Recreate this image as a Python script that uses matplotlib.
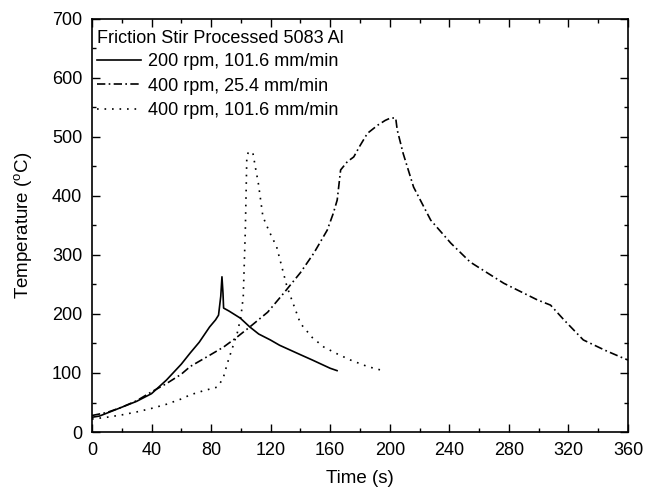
import numpy as np
import matplotlib.pyplot as plt

plt.rcParams['font.family'] = ['Liberation Sans', 'DejaVu Sans']
plt.rcParams['mathtext.fontset'] = 'custom'
plt.rcParams['mathtext.rm'] = 'Liberation Sans'

# 200 rpm, 101.6 mm/min
t1 = [0, 5, 10, 20, 30, 40, 50, 60, 66, 72, 79, 83, 85, 86.5, 87.3, 88, 88.4, 92, 99.6, 106, 112, 119.8, 126, 133, 140, 148, 155.7, 160, 164.6]
T1 = [25, 27, 32, 42, 52, 65, 88, 115, 134, 152, 178, 190, 198, 230, 263, 235, 210, 205, 193, 178, 166, 156, 147, 139, 131, 122, 113, 108, 104]

# 400 rpm, 25.4 mm/min
t2 = [0, 10, 20, 30, 40, 50, 60, 66, 79, 88.4, 97, 106, 118, 128.7, 140, 149, 158, 162, 164.7, 167, 171.5, 175.8, 180, 185, 192, 197, 200.5, 204, 205, 209, 216, 227.5, 241, 254, 259, 276.6, 299, 308, 317, 330, 345, 357, 360]
T2 = [28, 33, 42, 53, 68, 82, 98, 111, 130, 144, 160, 178, 203, 235, 270, 303, 342, 370, 393, 444, 458, 466, 485, 506, 520, 528, 532, 532, 512, 472, 415, 359, 320, 288, 280, 252, 224, 215, 190, 156, 138, 125, 122]

# 400 rpm, 101.6 mm/min
t3 = [0, 10, 20, 30, 40, 50, 60, 66, 75, 84, 88, 91, 94, 97.6, 100, 101.6, 103, 104, 105, 108, 110, 111.7, 114.8, 119, 124, 131, 140, 148, 155.7, 165, 173.6, 185, 194]
T3 = [22, 25, 29, 34, 40, 47, 56, 63, 70, 76, 90, 117, 140, 168, 195, 229, 342, 466, 474, 474, 445, 422, 365, 340, 314, 246, 184, 160, 144, 132, 122, 111, 105]

fig = plt.figure(figsize=(6.45, 4.96), dpi=100)
ax = fig.add_axes([0.1426, 0.129, 0.831, 0.833])

ax.plot(t1, T1, color='black', lw=1.2, ls='-', label='200 rpm, 101.6 mm/min')
ax.plot(t2, T2, color='black', lw=1.2, ls=(0, (5, 2, 1, 2)), label='400 rpm, 25.4 mm/min')
ax.plot(t3, T3, color='black', lw=1.2, ls=(0, (1, 3.5)), label='400 rpm, 101.6 mm/min')

ax.set_xlim(0, 360)
ax.set_ylim(0, 700)
ax.set_xticks(np.arange(0, 361, 40))
ax.set_yticks(np.arange(0, 701, 100))
ax.set_xticks(np.arange(20, 361, 40), minor=True)
ax.set_yticks(np.arange(50, 701, 100), minor=True)
ax.tick_params(which='both', direction='in', top=True, right=True, labelsize=13, pad=7)
ax.tick_params(which='major', length=6, width=1)
ax.tick_params(which='minor', length=3, width=1)
for s in ax.spines.values():
    s.set_linewidth(1.2)

ax.set_xlabel('Time (s)', fontsize=13.5, labelpad=8)
ax.set_ylabel('Temperature ($^{\\rm o}$C)', fontsize=13.5, labelpad=12)

leg = ax.legend(title='Friction Stir Processed 5083 Al', loc='upper left', frameon=False,
                bbox_to_anchor=(0.0, 0.985),
                fontsize=13, title_fontsize=13, handlelength=2.4, handletextpad=0.4,
                labelspacing=0.42, borderaxespad=0.0, borderpad=0.3)
leg._legend_box.align = 'left'
leg._legend_box.sep = 4

fig.savefig('out.png', dpi=100)
